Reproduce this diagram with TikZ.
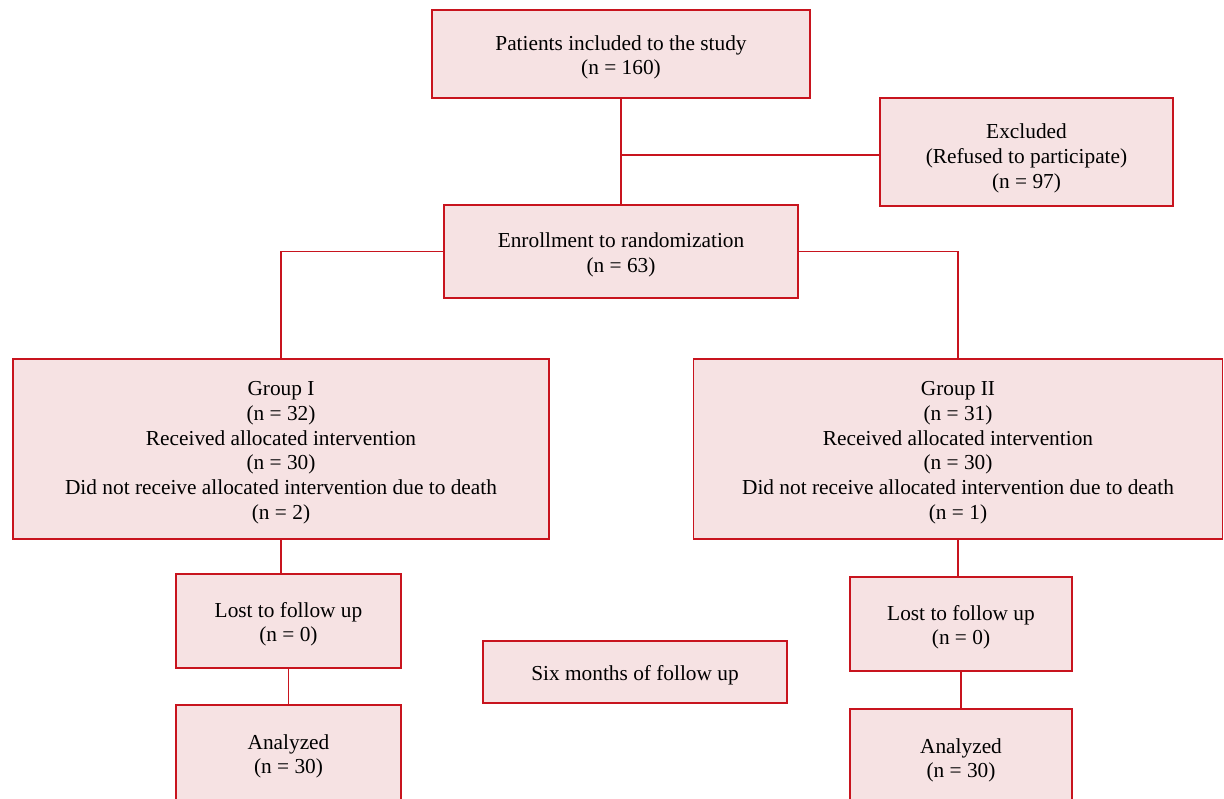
\documentclass[tikz,border=0pt]{standalone}
\usepackage{fontspec}
\setmainfont{Liberation Serif}
\usepackage{tikz}
\usetikzlibrary{positioning}

\definecolor{boxfill}{RGB}{246,226,227}
\definecolor{boxline}{RGB}{200,20,30}
\newcommand{\topgap}[1][13pt]{\rule{0pt}{#1}}

\begin{document}
\begin{tikzpicture}[x=0.6pt,y=-0.6pt,
    box/.style={draw=boxline,fill=boxfill,line width=0.85pt,align=center,
      inner sep=0pt,font=\fontsize{12.8}{14.8}\selectfont},
    link/.style={draw=boxline,line width=0.9pt}]
    \useasboundingbox (0,0) rectangle (1224,798);
    \clip (0,0) rectangle (1224,798);
    \node[box,minimum width=226.8pt,minimum height=52.8pt] (incl) at (621,54)
      {\topgap Patients included to the study\\(n = 160)};
    \node[box,minimum width=175.8pt,minimum height=64.8pt] (excl) at (1026.5,152)
      {\topgap[16.6pt]Excluded\\(Refused to participate)\\(n = 97)};
    \node[box,minimum width=212.4pt,minimum height=55.8pt] (enrol) at (621,251.5)
      {\topgap Enrollment to randomization\\(n = 63)};
    \node[box,minimum width=321.6pt,minimum height=108pt] (g1) at (281,449)
      {\topgap Group I\\(n = 32)\\Received allocated intervention\\(n = 30)\\Did not receive allocated intervention due to death\\(n = 2)};
    \node[box,minimum width=317.4pt,minimum height=108pt] (g2) at (958,449)
      {\topgap Group II\\(n = 31)\\Received allocated intervention\\(n = 30)\\Did not receive allocated intervention due to death\\(n = 1)};
    \node[box,minimum width=135pt,minimum height=56.4pt] (lost1) at (288.5,621)
      {\topgap Lost to follow up\\(n = 0)};
    \node[box,minimum width=135pt,minimum height=57.6pt] (ana1) at (288.5,753)
      {\topgap Analyzed\\(n = 30)};
    \node[box,minimum width=133.2pt,minimum height=56.4pt] (lost2) at (961,624)
      {\topgap Lost to follow up\\(n = 0)};
    \node[box,minimum width=133.2pt,minimum height=57.6pt] (ana2) at (961,757)
      {\topgap Analyzed\\(n = 30)};
    \node[box,minimum width=182.4pt,minimum height=37.2pt] (six) at (635,672)
      {\topgap Six months of follow up};
    % connectors
    \coordinate (junc) at (621,155);
    \path[link] (incl.south) -- (enrol.north);
    \path[link] (junc) -- (junc-|excl.west);
    \path[link] (enrol.west) -| (g1.north);
    \path[link] (enrol.east) -| (g2.north);
    \path[link] (g1.south) -- (g1.south|-lost1.north);
    \path[link] (lost1.south) -- (ana1.north);
    \path[link] (g2.south) -- (g2.south|-lost2.north);
    \path[link] (lost2.south) -- (ana2.north);
\end{tikzpicture}
\end{document}
